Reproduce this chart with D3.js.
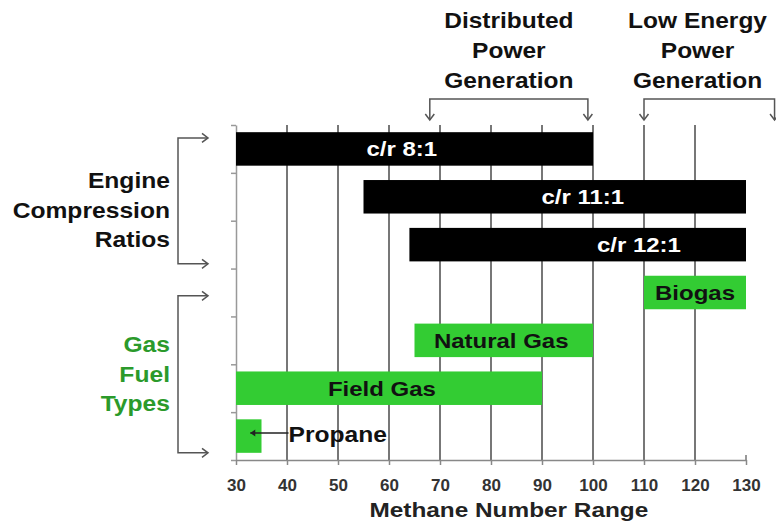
<!DOCTYPE html>
<html>
<head>
<meta charset="utf-8">
<script src="https://cdn.jsdelivr.net/npm/d3@7"></script>
<style>
  body { margin: 0; background: #fff; }
  svg { display: block; font-family: "Liberation Sans", Arial, sans-serif; }
</style>
</head>
<body>
<script>
// * DATA
const categories = ["c/r 8:1", "c/r 11:1", "c/r 12:1", "Biogas", "Natural Gas", "Field Gas", "Propane"];
const rangeStart = [30, 55, 64, 110, 65, 30, 30];
const rangeEnd = [100, 130, 130, 130, 100, 90, 35];
const groups = ["engine", "engine", "engine", "fuel", "fuel", "fuel", "fuel"];
// where each label sits along the methane axis (null = label outside)
const labelAt = [62.5, 98, 109, 120, 82, 58.6, null];
const xTicks = [30, 40, 50, 60, 70, 80, 90, 100, 110, 120, 130];

const bars = categories.map((c, i) => ({
  name: c, start: rangeStart[i], end: rangeEnd[i], group: groups[i], at: labelAt[i]
}));

// * SETUP
const width = 776, height = 525;
const plotTop = 125, plotBottom = 460;
const black = "#000", green = "#33cc33", fuelText = "#2b9a2b";

const x = d3.scaleLinear().domain([30, 130]).range([236, 746]);
const y = d3.scaleBand().domain(categories).range([plotTop, plotBottom]).paddingInner(0.3).paddingOuter(0.15);
const yLin = d3.scaleLinear().domain([0, categories.length]).range([plotTop, plotBottom]);

const svg = d3.select("body").append("svg")
  .attr("width", width)
  .attr("height", height)
  .attr("viewBox", [0, 0, width, height]);

// open arrow head for the brackets
const defs = svg.append("defs");
defs.append("marker")
  .attr("id", "open")
  .attr("viewBox", "-8 -6 10 12")
  .attr("refX", 0).attr("refY", 0)
  .attr("markerWidth", 10).attr("markerHeight", 12)
  .attr("markerUnits", "userSpaceOnUse")
  .attr("orient", "auto-start-reverse")
  .append("path")
  .attr("d", "M-6,-4.5 L0,0 L-6,4.5")
  .attr("fill", "none")
  .attr("stroke", "#555")
  .attr("stroke-width", 1.5);
defs.append("marker")
  .attr("id", "solid")
  .attr("viewBox", "-6 -4 7 8")
  .attr("refX", 0).attr("refY", 0)
  .attr("markerWidth", 7).attr("markerHeight", 8)
  .attr("markerUnits", "userSpaceOnUse")
  .attr("orient", "auto")
  .append("path")
  .attr("d", "M-5,-3.5 L0,0 L-5,3.5 Z")
  .attr("fill", "#222");

// bold text, a little wider than the font (the original is stretched)
function wideText(parent, px, py, str, size, sx, anchor = "middle", fill = "#111") {
  return parent.append("text")
    .attr("transform", `translate(${px},${py}) scale(${sx},1)`)
    .attr("text-anchor", anchor)
    .attr("font-size", size)
    .attr("font-weight", "bold")
    .attr("fill", fill)
    .text(str);
}

// * GRID
svg.append("g")
  .selectAll("line")
  .data(xTicks.slice(1, -1))
  .join("line")
  .attr("x1", d => x(d)).attr("x2", d => x(d))
  .attr("y1", plotTop).attr("y2", plotBottom)
  .attr("stroke", "#555")
  .attr("stroke-width", 1.6);

// little upward tick at the right end
svg.append("line")
  .attr("x1", x(130)).attr("x2", x(130))
  .attr("y1", plotBottom - 5).attr("y2", plotBottom)
  .attr("stroke", "#777").attr("stroke-width", 1.5);

// * AXES
svg.append("g")
  .attr("transform", `translate(${x(30)},0)`)
  .call(d3.axisLeft(yLin).tickValues(d3.range(categories.length + 1)).tickFormat("").tickSize(5).tickSizeOuter(0))
  .call(g => g.selectAll("line, path").attr("stroke", "#999").attr("stroke-width", 1.5));

svg.append("g")
  .attr("transform", `translate(0,${plotBottom})`)
  .call(d3.axisBottom(x).tickValues(xTicks).tickSize(5).tickSizeOuter(0).tickPadding(14))
  .call(g => g.select(".domain").attr("stroke", "#888").attr("stroke-width", 1.5))
  .call(g => g.selectAll(".tick line").attr("stroke", "#888").attr("stroke-width", 1.5))
  .call(g => g.selectAll(".tick text")
    .attr("font-size", 17)
    .attr("font-weight", "bold")
    .attr("font-family", "'Liberation Sans', Arial, sans-serif")
    .attr("fill", "#333"));

wideText(svg, x(83.5), 517, "Methane Number Range", 21, 1.16, "middle", "#222");

// * BARS
svg.append("g")
  .selectAll("rect")
  .data(bars)
  .join("rect")
  .attr("x", d => x(d.start))
  .attr("y", d => y(d.name))
  .attr("width", d => x(d.end) - x(d.start))
  .attr("height", y.bandwidth())
  .attr("fill", d => d.group === "engine" ? black : green);

const labels = svg.append("g");
bars.filter(d => d.at !== null).forEach(d => {
  wideText(labels, x(d.at), y(d.name) + y.bandwidth() / 2 + 7.5, d.name, 20, 1.2, "middle",
    d.group === "engine" ? "#fff" : "#111");
});

// Propane label sits outside with an arrow
const prop = bars.find(d => d.at === null);
const propY = y(prop.name) + y.bandwidth() / 2 - 3;
svg.append("line")
  .attr("x1", x(40.3)).attr("x2", x(32.8))
  .attr("y1", propY).attr("y2", propY)
  .attr("stroke", "#222").attr("stroke-width", 1.5)
  .attr("marker-end", "url(#solid)");
wideText(svg, x(40.3), propY + 9, prop.name, 22, 1.12, "start", "#111");

// * ANNOTATIONS
const ann = svg.append("g")
  .attr("fill", "none")
  .attr("stroke", "#555")
  .attr("stroke-width", 1.5);

// top brackets
const topBrackets = [
  { from: 68, to: 99, lines: ["Distributed", "Power", "Generation"], center: 83.5 },
  { from: 110, to: 135.6, lines: ["Low Energy", "Power", "Generation"], center: 120.5 }
];
topBrackets.forEach(b => {
  ann.append("path")
    .attr("d", `M${x(b.from)},120 V99 H${x(b.to)} V120`)
    .attr("marker-start", "url(#open)")
    .attr("marker-end", "url(#open)");
  b.lines.forEach((t, i) => wideText(svg, x(b.center), 28 + i * 30, t, 21.5, 1.14, "middle", "#111"));
});

// left brackets
const sideBrackets = [
  { from: 0.27, to: 2.9, lines: ["Engine", "Compression", "Ratios"], base: 188, fill: "#111" },
  { from: 3.57, to: 6.85, lines: ["Gas", "Fuel", "Types"], base: 352, fill: fuelText }
];
sideBrackets.forEach(b => {
  ann.append("path")
    .attr("d", `M208,${yLin(b.from)} H178 V${yLin(b.to)} H208`)
    .attr("marker-start", "url(#open)")
    .attr("marker-end", "url(#open)");
  b.lines.forEach((t, i) => wideText(svg, 170, b.base + i * 29.5, t, 22, 1.12, "end", b.fill));
});
</script>
</body>
</html>
